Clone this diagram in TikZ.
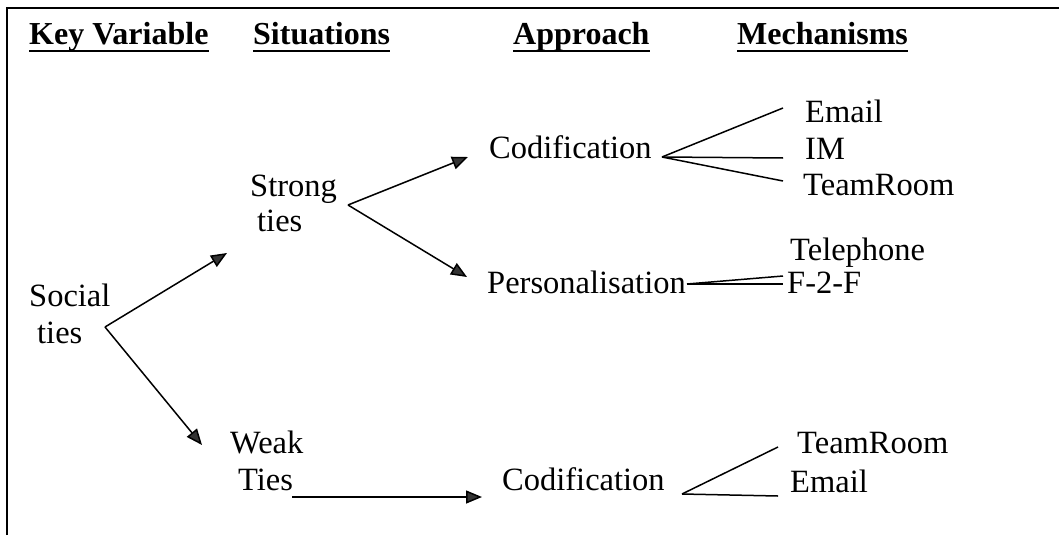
\documentclass[tikz,border=0pt]{standalone}
\usepackage{fontspec}
\setmainfont{Liberation Serif}
\usetikzlibrary{arrows.meta}
\begin{document}
\begin{tikzpicture}[x=1pt,y=-1pt,
  lbl/.style={inner sep=0pt, font=\fontsize{32.5}{38}\selectfont, anchor=base west},
  hdr/.style={inner sep=0pt, font=\fontsize{32}{38}\selectfont\bfseries, anchor=base west},
  uline/.style={line width=2pt},
  frame/.style={line width=2pt},
  conn/.style={line width=1.5pt},
  arr/.style={conn, -{Triangle[length=16pt,width=13pt,fill=black!80]}}]
\useasboundingbox (0,0) rectangle (1059,535);

% open frame: top and left edges
\draw[frame] (7,535) -- (7,8) -- (1059,8);

% column headings
\node[hdr] (hkv)   at (29,45)  {Key Variable};
\node[hdr] (hsit)  at (253,45) {Situations};
\node[hdr] (happ)  at (513,45) {Approach};
\node[hdr] (hmech) at (737,45) {Mechanisms};
\foreach \h in {hkv,hsit,happ,hmech}
  \draw[uline] ([yshift=-6pt]\h.base west) -- ([yshift=-6pt]\h.base east);

% key variable
\node[lbl] (soc1) at (29,306) {Social};
\node[lbl] (soc2) at (37,343) {ties};

% situations
\node[lbl] (str1) at (250,196) {Strong};
\node[lbl] (str2) at (257,231) {ties};
\node[lbl] (weak1) at (230,453) {Weak};
\node[lbl] (weak2) at (238,490) {Ties};

% approaches
\node[lbl] (cod1) at (489,158) {Codification};
\node[lbl] (pers) at (487,293) {Personalisation};
\node[lbl] (cod2) at (502,490) {Codification};

% mechanisms
\node[lbl] (mail1) at (805,122) {Email};
\node[lbl] (im)    at (805,159) {IM};
\node[lbl] (team1) at (803,195) {TeamRoom};
\node[lbl] (tel)   at (790,260) {Telephone};
\node[lbl] (ftf)   at (787,293) {F-2-F};
\node[lbl] (team2) at (797,453) {TeamRoom};
\node[lbl] (mail2) at (790,492) {Email};

% branch points and arrow ends
\coordinate (socout) at (105,327);
\coordinate (strin)  at (227,253);
\coordinate (weakin) at (202,445);
\coordinate (strout) at (348,205);
\coordinate (cod1in) at (468,157);
\coordinate (persin) at (467,277);
\coordinate (weakout) at (292,497);
\coordinate (cod2in) at (482,497);
\coordinate (cod1out) at (662,157);
\coordinate (mail1in) at (783,108);
\coordinate (imin)    at (783,158);
\coordinate (team1in) at (783,181);
\coordinate (persout) at (687,284);
\coordinate (telin)   at (783,276);
\coordinate (ftfin)   at (783,284);
\coordinate (cod2out) at (682,494);
\coordinate (team2in) at (778,447);
\coordinate (mail2in) at (778,496);

% arrows between columns
\draw[arr] (socout) -- (strin);
\draw[arr] (socout) -- (weakin);
\draw[arr] (strout) -- (cod1in);
\draw[arr] (strout) -- (persin);
\draw[arr] (weakout) -- (cod2in);

% fans to the mechanisms
\draw[conn] (cod1out) -- (mail1in);
\draw[conn] (cod1out) -- (imin);
\draw[conn] (cod1out) -- (team1in);
\draw[conn] (persout) -- (telin);
\draw[conn] (persout) -- (ftfin);
\draw[conn] (cod2out) -- (team2in);
\draw[conn] (cod2out) -- (mail2in);
\end{tikzpicture}
\end{document}
